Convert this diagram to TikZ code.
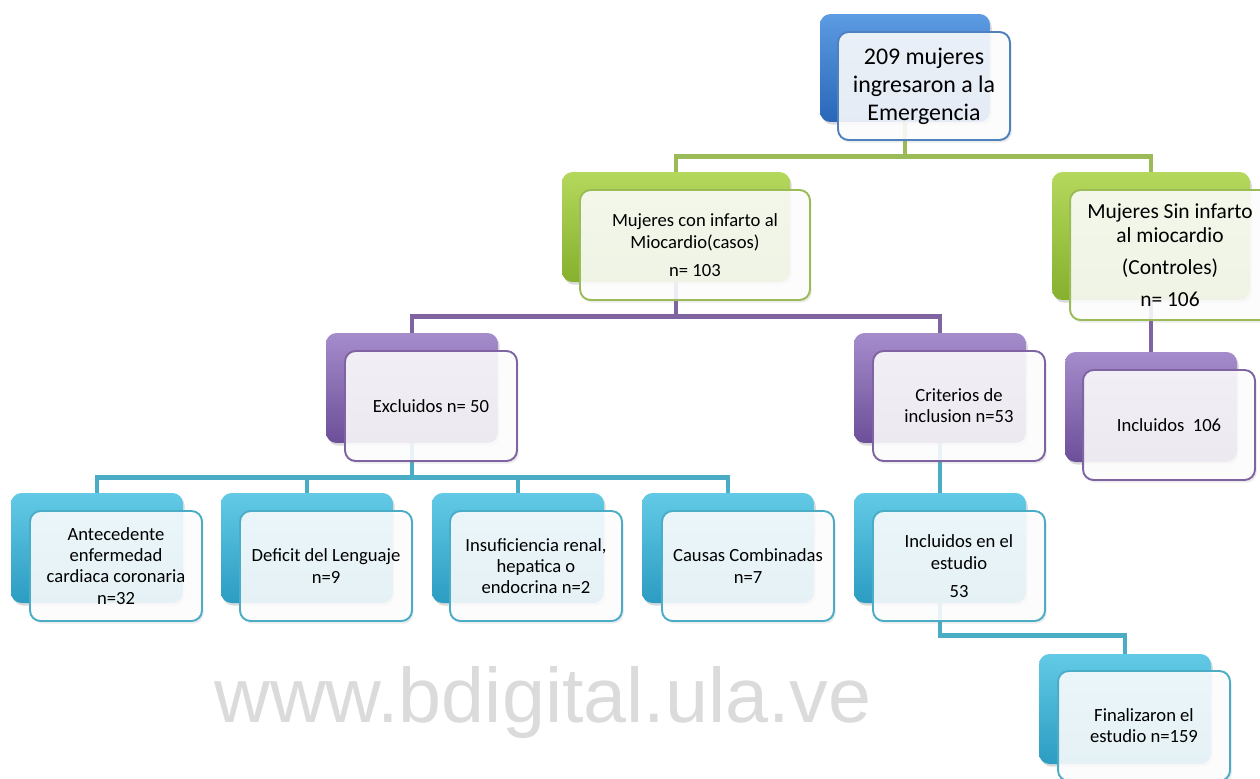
\documentclass[tikz,border=0pt]{standalone}
\usepackage{fontspec}
\setmainfont{Carlito}
\newfontfamily\wmfont{Liberation Sans}
\usepackage{tikz}
\usetikzlibrary{shadows}
\pgfdeclarelayer{edgelayer}
\pgfdeclarelayer{nodelayer}
\pgfsetlayers{edgelayer,nodelayer,main}
\definecolor{azulA}{HTML}{5C9CE2}
\definecolor{azulB}{HTML}{2A66B8}
\definecolor{azulL}{HTML}{4F81BD}
\definecolor{verdeA}{HTML}{B4D85C}
\definecolor{verdeB}{HTML}{86B02E}
\definecolor{verdeL}{HTML}{9BBB59}
\definecolor{moradoA}{HTML}{A58CCB}
\definecolor{moradoB}{HTML}{6C4F99}
\definecolor{moradoL}{HTML}{8064A2}
\definecolor{cianA}{HTML}{62CAE6}
\definecolor{cianB}{HTML}{2C9CC2}
\definecolor{cianL}{HTML}{4BACC6}
\tikzstyle{back}=[rounded corners=6pt, minimum width=3.44cm, minimum height=2.2cm, drop shadow={opacity=0.3, shadow xshift=1pt, shadow yshift=-1.5pt}]
\tikzstyle{front}=[rounded corners=6pt, minimum width=3.44cm, minimum height=2.2cm, fill=white, fill opacity=0.87, text opacity=1, line width=1.1pt, align=center, font=\fontsize{10.6}{12}\selectfont, drop shadow={opacity=0.15, shadow xshift=1pt, shadow yshift=-1.5pt}]
\tikzstyle{bback}=[back, top color=azulA, bottom color=azulB]
\tikzstyle{gback}=[back, top color=verdeA, bottom color=verdeB]
\tikzstyle{pback}=[back, top color=moradoA, bottom color=moradoB]
\tikzstyle{cback}=[back, top color=cianA, bottom color=cianB]
\tikzstyle{link}=[line width=2.8pt]

\begin{document}
\begin{tikzpicture}[x=0.02cm, y=-0.02cm]
				\useasboundingbox (0,0) rectangle (1260,778);
				\begin{pgfonlayer}{nodelayer}
					\node [style=bback, minimum width=3.4cm, minimum height=2.16cm] (topb) at (905,68) {};
					\node [style=gback, minimum width=4.56cm] (casosb) at (676,227) {};
					\node [style=gback, minimum width=3.96cm, minimum height=2.56cm] (sinb) at (1151,236) {};
					\node [style=pback] (exclb) at (412,388) {};
					\node [style=pback] (critb) at (940,388) {};
					\node [style=pback] (inclb) at (1151,407) {};
					\node [style=cback] (antb) at (97,548) {};
					\node [style=cback] (defb) at (307,548) {};
					\node [style=cback] (insb) at (518,548) {};
					\node [style=cback] (combb) at (728,548) {};
					\node [style=cback] (estb) at (940,548) {};
					\node [style=cback] (finb) at (1125,709) {};
				\end{pgfonlayer}
				\node [style=front, draw=azulL, minimum width=3.44cm, minimum height=2.16cm, font=\fontsize{13.6}{16}\selectfont] (topf) at (924,86) {209 mujeres\\ingresaron a la\\Emergencia};
				\node [style=front, draw=verdeL, minimum width=4.6cm, font=\fontsize{10.6}{12.5}\selectfont] (casosf) at (695,245) {Mujeres con infarto al\\Miocardio(casos)\\[3.4pt]n= 103};
				\node [style=front, draw=verdeL, minimum width=4cm, minimum height=2.6cm, font=\fontsize{12.2}{13.6}\selectfont] (sinf) at (1170,255) {Mujeres Sin infarto\\al miocardio\\[4.5pt](Controles)\\[4.5pt]n= 106};
				\node [style=front, draw=moradoL] (exclf) at (431,406) {Excluidos n= 50};
				\node [style=front, draw=moradoL] (critf) at (959,406) {Criterios de\\inclusion n=53};
				\node [style=front, draw=moradoL] (inclf) at (1169,425) {Incluidos\ \ 106};
				\node [style=front, draw=cianL] (antf) at (116,566) {Antecedente\\enfermedad\\cardiaca coronaria\\n=32};
				\node [style=front, draw=cianL] (deff) at (326,566) {Deficit del Lenguaje\\n=9};
				\node [style=front, draw=cianL] (insf) at (536,566) {Insuficiencia renal,\\hepatica o\\endocrina n=2};
				\node [style=front, draw=cianL] (combf) at (748,566) {Causas Combinadas\\n=7};
				\node [style=front, draw=cianL, font=\fontsize{10.6}{12.5}\selectfont] (estf) at (959,566) {Incluidos en el\\estudio\\[3.4pt]53};
				\node [style=front, draw=cianL] (finf) at (1144,726) {Finalizaron el\\estudio n=159};
				\node [text=gray!28, inner sep=0pt, font=\wmfont\fontsize{44}{44}\selectfont] (wm) at (543,702) {www.bdigital.ula.ve};
				\begin{pgfonlayer}{edgelayer}
					\draw [style=link, draw=verdeL] (topb.south) -- ++(0,34) -| (casosb.north);
					\draw [style=link, draw=verdeL] (topb.south) -- ++(0,34) -| (sinb.north);
					\draw [style=link, draw=moradoL] (casosb.south) -- ++(0,34) -| (exclb.north);
					\draw [style=link, draw=moradoL] (casosb.south) -- ++(0,34) -| (critb.north);
					\draw [style=link, draw=moradoL] (sinb.south) -- (inclb.north);
					\draw [style=link, draw=cianL] (exclb.south) -- ++(0,34) -| (antb.north);
					\draw [style=link, draw=cianL] (exclb.south) -- ++(0,34) -| (defb.north);
					\draw [style=link, draw=cianL] (exclb.south) -- ++(0,34) -| (insb.north);
					\draw [style=link, draw=cianL] (exclb.south) -- ++(0,34) -| (combb.north);
					\draw [style=link, draw=cianL] (critb.south) -- (estb.north);
					\draw [style=link, draw=cianL] (estb.south) -- ++(0,32) -| (finb.north);
				\end{pgfonlayer}
			\end{tikzpicture}
\end{document}
